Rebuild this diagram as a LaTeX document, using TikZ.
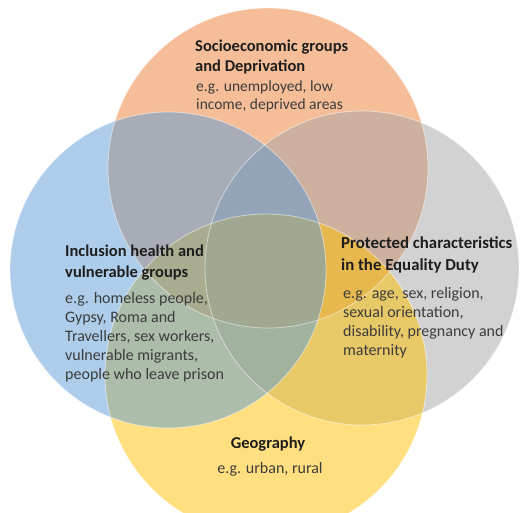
\documentclass[tikz,border=0pt]{standalone}
\usepackage{fontspec}
\setmainfont{Carlito}
\usetikzlibrary{positioning}

\definecolor{vennorange}{HTML}{ED7D31}
\definecolor{vennblue}{HTML}{5B9BD5}
\definecolor{venngrey}{HTML}{A5A5A5}
\definecolor{vennyellow}{HTML}{FFC000}
\definecolor{headtext}{HTML}{1E1E1E}
\definecolor{bodytext}{HTML}{3C3C3C}

\begin{document}
\begin{tikzpicture}[x=1pt, y=-1pt,
    set/.style={fill=#1, fill opacity=0.5},
    rim/.style={draw=white, draw opacity=0.5, line width=0.8pt},
    head/.style={inner sep=0pt, align=left, text=headtext,
      font=\fontsize{16.5}{21}\selectfont\bfseries},
    note/.style={inner sep=0pt, align=left, text=bodytext,
      font=\fontsize{16}{19}\selectfont}]
    \useasboundingbox (0,0) rectangle (522,513);
    \clip (0,0) rectangle (522,513);

    % the four overlapping sets, back to front
    \fill[set=vennorange] (268,168) circle (160pt);
    \fill[set=venngrey] (362,268) circle (157pt);
    \fill[set=vennyellow] (266,375) circle (161pt);
    \fill[set=vennblue] (168,270) circle (158pt);

    % thin light rims
    \draw[rim] (268,168) circle (160pt);
    \draw[rim] (362,268) circle (157pt);
    \draw[rim] (266,375) circle (161pt);
    \draw[rim] (168,270) circle (158pt);

    % Socioeconomic (top) -- base anchor sits on the last line
    \node[head, font=\fontsize{16.5}{20}\selectfont\bfseries, anchor=base west] (soctitle) at (195,72) {Socioeconomic groups\\and Deprivation};
    \node[note, font=\fontsize{15.5}{18.5}\selectfont, anchor=base west] (socnote) at (196,110) {e.g. unemployed, low\\income, deprived areas};

    % Inclusion health (left)
    \node[head, anchor=base west] (inctitle) at (65,277) {Inclusion health and\\vulnerable groups};
    \node[note, anchor=base west] (incnote) at (65,379) {e.g. homeless people,\\Gypsy, Roma and\\Travellers, sex workers,\\vulnerable migrants,\\people who leave prison};

    % Protected characteristics (right)
    \node[head, font=\fontsize{16.8}{22}\selectfont\bfseries, anchor=base west] (protitle) at (341,270) {Protected characteristics\\in the Equality Duty};
    \node[note, font=\fontsize{16}{18.7}\selectfont, anchor=base west] (pronote) at (343,355) {e.g. age, sex, religion,\\sexual orientation,\\disability, pregnancy and\\maternity};

    % Geography (bottom)
    \node[head, anchor=base] (geotitle) at (268,448) {Geography};
    \node[note, anchor=base] (geonote) at (270,473) {e.g. urban, rural};
\end{tikzpicture}
\end{document}
